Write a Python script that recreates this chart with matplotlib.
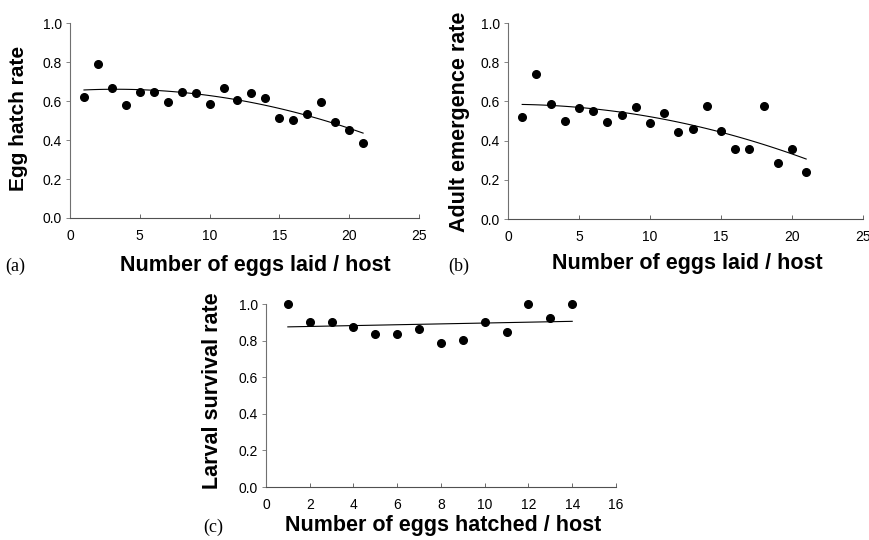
import numpy as np
import matplotlib
matplotlib.use('Agg')
import matplotlib.pyplot as plt

plt.rcParams['font.family'] = ['Liberation Sans', 'DejaVu Sans']

# (a) egg hatch rate vs number of eggs laid per host
laid = list(range(1, 22))
hatch_rate = [0.62, 0.79, 0.667, 0.58, 0.648, 0.646, 0.595, 0.648, 0.643, 0.583,
              0.668, 0.607, 0.639, 0.615, 0.511, 0.504, 0.533, 0.595, 0.494, 0.451, 0.383]

# (b) adult emergence rate vs number of eggs laid per host
emerge_rate = [0.523, 0.739, 0.587, 0.501, 0.565, 0.553, 0.494, 0.530, 0.572, 0.491,
               0.543, 0.443, 0.460, 0.576, 0.447, 0.357, 0.357, 0.577, 0.284, 0.355, 0.241]

# (c) larval survival rate vs number of eggs hatched per host
hatched = list(range(1, 15))
survival_rate = [1.0, 0.903, 0.90, 0.872, 0.836, 0.836, 0.861, 0.788, 0.801, 0.90,
                 0.845, 1.0, 0.922, 1.0]

fig = plt.figure(figsize=(8.7, 5.4), dpi=100)


def style_axes(ax, xmax, xstep):
    ax.spines['top'].set_visible(False)
    ax.spines['right'].set_visible(False)
    ax.spines['left'].set_color('#707070')
    ax.spines['bottom'].set_color('#505050')
    ax.spines['left'].set_linewidth(0.8)
    ax.spines['bottom'].set_linewidth(0.8)
    ax.set_xlim(0, xmax)
    ax.set_ylim(0, 1.0)
    ax.set_xticks(np.arange(0, xmax + 0.1, xstep))
    ax.set_yticks(np.arange(0, 1.01, 0.2))
    ax.yaxis.set_major_formatter(matplotlib.ticker.FormatStrFormatter('%.1f'))
    ax.tick_params(axis='x', direction='in', length=3, width=0.6, color='#505050',
                   labelsize=10, pad=8)
    ax.tick_params(axis='y', direction='out', length=3, width=0.6, color='#707070',
                   labelsize=10, pad=3)


def draw_panel(ax, x, y, deg, xmax, xstep):
    ax.plot(x, y, 'o', color='black', markersize=5.5, zorder=3, clip_on=False)
    # trend line fitted to the points, as in the original figure
    coef = np.polyfit(x, y, deg)
    xs = np.linspace(min(x), max(x), 100)
    ax.plot(xs, np.polyval(coef, xs), color='black', linewidth=0.8)
    style_axes(ax, xmax, xstep)


ax_a = fig.add_axes([0.0805, 0.5963, 0.401, 0.361])
draw_panel(ax_a, laid, hatch_rate, 2, 25, 5)

ax_b = fig.add_axes([0.5839, 0.5944, 0.408, 0.363])
draw_panel(ax_b, laid, emerge_rate, 2, 25, 5)

ax_c = fig.add_axes([0.3057, 0.0981, 0.4023, 0.3389])
draw_panel(ax_c, hatched, survival_rate, 1, 16, 2)

bold = dict(fontsize=15.5, fontweight='bold')
fig.text(255 / 870, 1 - 265 / 540, 'Number of eggs laid / host', ha='center', va='center', **bold)
fig.text(687 / 870, 1 - 264 / 540, 'Number of eggs laid / host', ha='center', va='center', **bold)
fig.text(443 / 870, 1 - 526 / 540, 'Number of eggs hatched / host', ha='center', va='center', **bold)

fig.text(19 / 870, 1 - 118 / 540, 'Egg hatch rate', rotation=90, ha='center', va='center',
         fontsize=15, fontweight='bold')
fig.text(460 / 870, 1 - 122 / 540, 'Adult emergence rate', rotation=90, ha='center', va='center', **bold)
fig.text(213 / 870, 1 - 391 / 540, 'Larval survival rate', rotation=90, ha='center', va='center', **bold)

serif = dict(fontsize=13, family='Liberation Serif', ha='center', va='center')
fig.text(15 / 870, 1 - 266 / 540, '(a)', **serif)
fig.text(459 / 870, 1 - 266 / 540, '(b)', **serif)
fig.text(213 / 870, 1 - 527 / 540, '(c)', **serif)

fig.savefig('out.png', dpi=100)
